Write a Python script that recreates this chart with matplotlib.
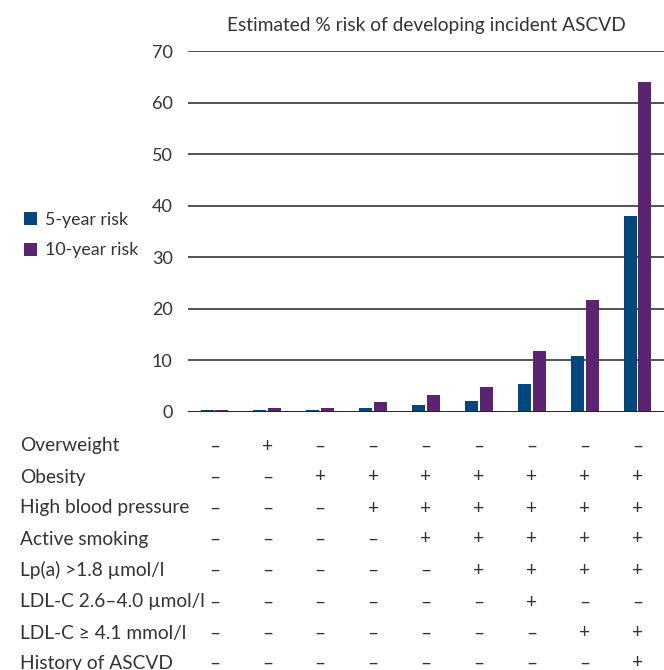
import matplotlib as mpl
mpl.use('Agg')
import matplotlib.pyplot as plt
import matplotlib.transforms as mtransforms
import numpy as np

plt.rcParams['font.family'] = ['Lato', 'DejaVu Sans']

# Estimated % risk per risk-factor profile (9 profiles)
risk_5yr = [0.4, 0.4, 0.4, 0.8, 1.4, 2.2, 5.5, 10.9, 38.0]
risk_10yr = [0.4, 0.8, 0.8, 2.0, 3.2, 4.9, 11.9, 21.7, 64.0]

factors = ['Overweight', 'Obesity', 'High blood pressure', 'Active smoking',
           'Lp(a) >1.8 \u00b5mol/l', 'LDL-C 2.6\u20134.0 \u00b5mol/l',
           'LDL-C \u2265 4.1 mmol/l', 'History of ASCVD']
# 1 = present (+), 0 = absent (–), one row per factor
profile = [
    [0, 1, 0, 0, 0, 0, 0, 0, 0],
    [0, 0, 1, 1, 1, 1, 1, 1, 1],
    [0, 0, 0, 1, 1, 1, 1, 1, 1],
    [0, 0, 0, 0, 1, 1, 1, 1, 1],
    [0, 0, 0, 0, 0, 1, 1, 1, 1],
    [0, 0, 0, 0, 0, 0, 1, 0, 0],
    [0, 0, 0, 0, 0, 0, 0, 1, 1],
    [0, 0, 0, 0, 0, 0, 0, 0, 1],
]
yticks = [0, 10, 20, 30, 40, 50, 60, 70]

blue = '#00477f'
purple = '#5b2370'
text_col = '#333333'
fs = 13.8

fig = plt.figure(figsize=(6.64, 6.70), dpi=100)
ax = fig.add_axes([188 / 664, (670 - 412) / 670, 1 - 188 / 664, (412 - 51) / 670])

x = np.arange(len(risk_5yr))
w = 0.245
ax.bar(x - 0.14, risk_5yr, w, color=blue, label='5-year risk', zorder=3)
ax.bar(x + 0.14, risk_10yr, w, color=purple, label='10-year risk', zorder=3)

ax.set_xlim(-0.5, 8.5)
ax.set_ylim(0, 70)
ax.set_yticks(yticks)
ax.yaxis.grid(True, color='#444444', linewidth=1.3, zorder=1)
ax.axhline(0, color='#222222', linewidth=2.0, zorder=4)
ax.tick_params(axis='y', length=0, pad=11, labelsize=13, labelcolor=text_col)
ax.set_xticks([])
for s in ax.spines.values():
    s.set_visible(False)

fig.text(426 / 664, 1 - 25 / 670, 'Estimated % risk of developing incident ASCVD',
         ha='center', va='center', fontsize=fs, color=text_col)

fig.legend(loc='upper left', bbox_to_anchor=(0.012, 1 - 196 / 670), frameon=False,
           fontsize=12.8, labelcolor=text_col, handlelength=0.75, handleheight=0.75,
           handletextpad=0.45, labelspacing=0.8)

# risk-factor table under the bars
trans = mtransforms.blended_transform_factory(ax.transData, fig.transFigure)
row_y = [446, 477, 508, 539, 570, 602, 633, 663]
for name, flags, yp in zip(factors, profile, row_y):
    yf = 1 - yp / 670
    fig.text(20 / 664, yf, name, ha='left', va='center', fontsize=fs, color=text_col)
    for i, f in enumerate(flags):
        ax.text(i, yf, '+' if f else '\u2013', transform=trans, ha='center',
                va='center', fontsize=fs, color=text_col, clip_on=False)

fig.savefig('out.png', dpi=100)
